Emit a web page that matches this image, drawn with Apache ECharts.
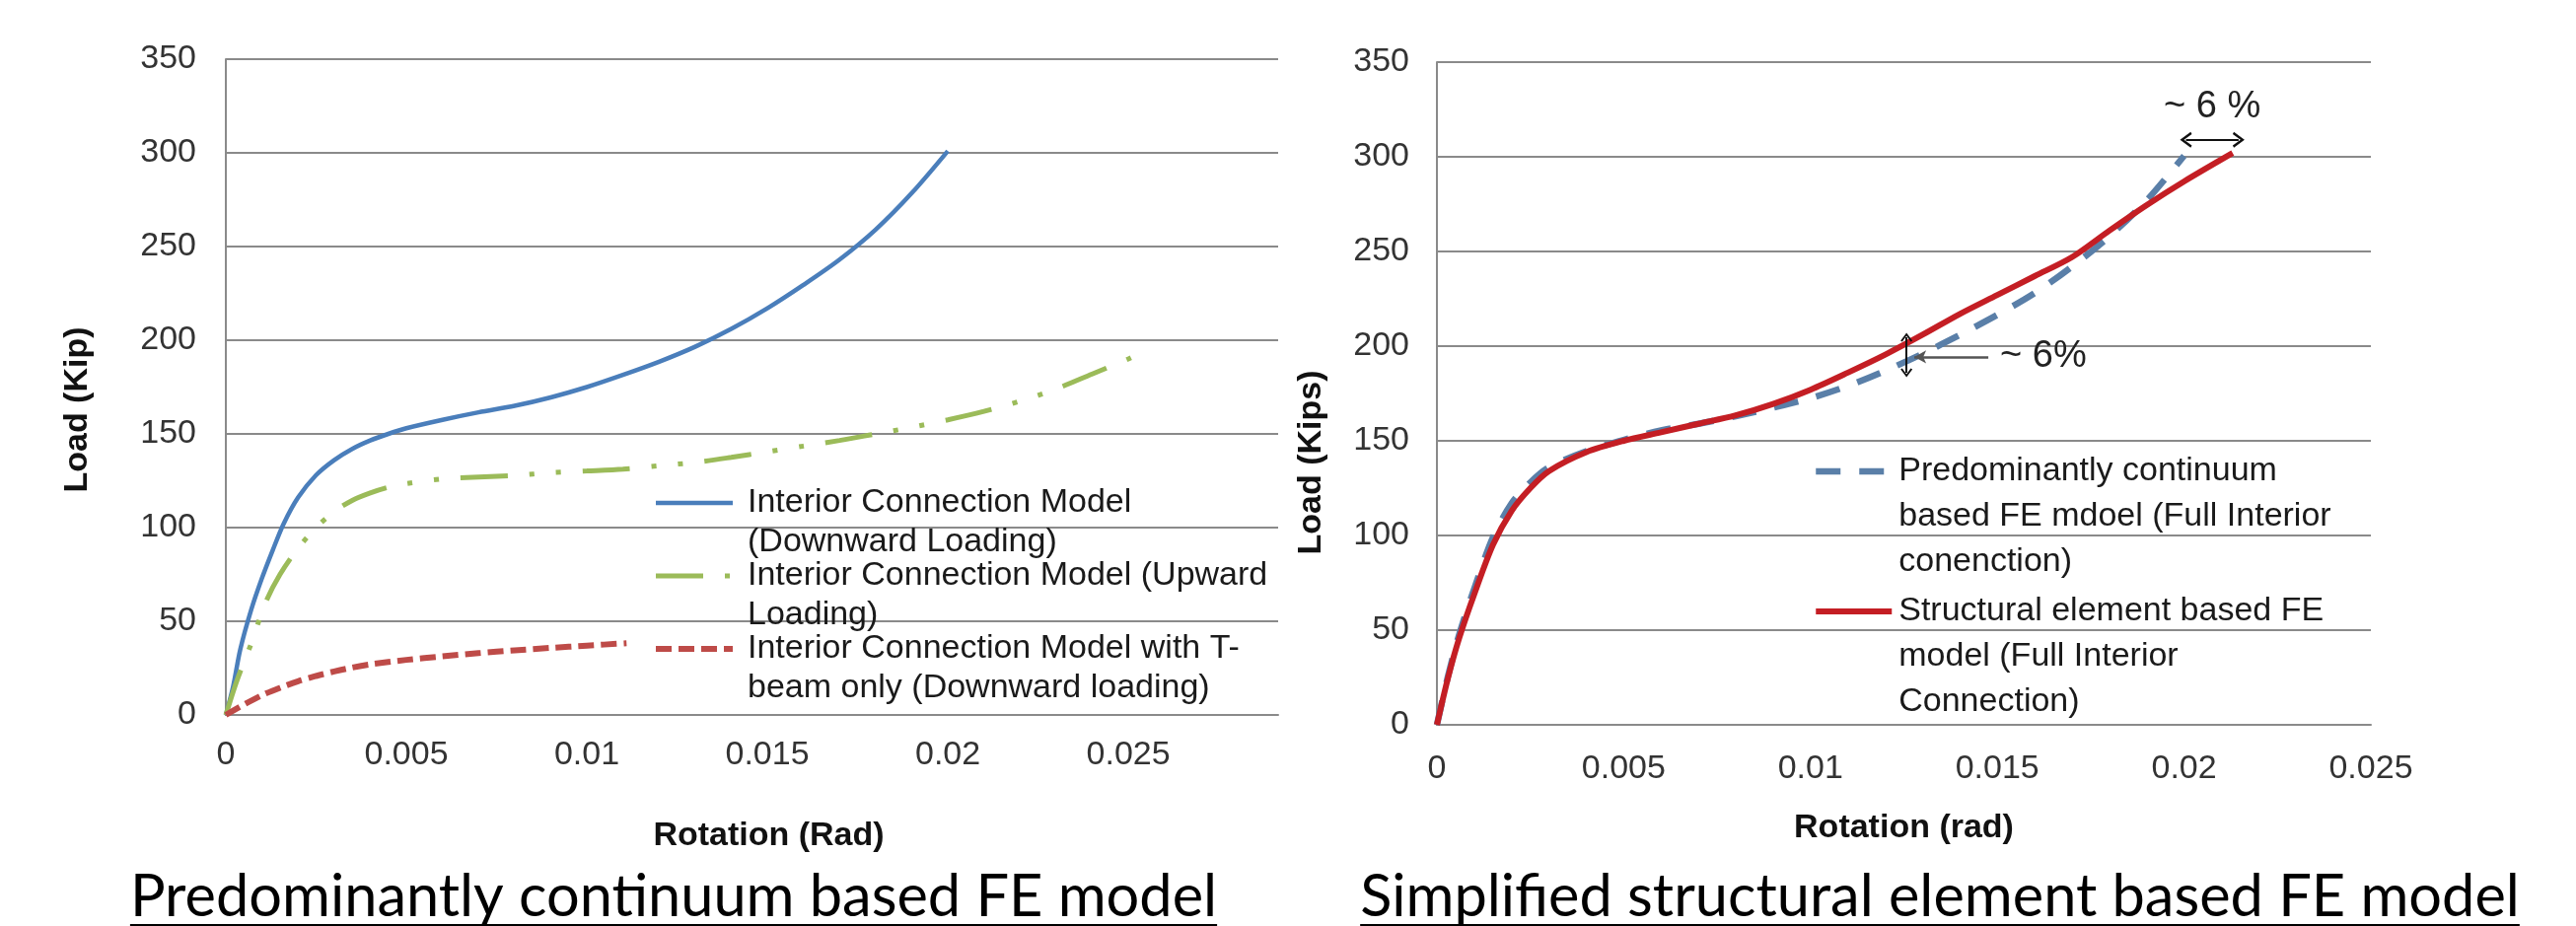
<!DOCTYPE html>
<html>
<head>
<meta charset="utf-8">
<title>Load vs rotation - FE model comparison</title>
<script src="https://cdn.jsdelivr.net/npm/echarts@6/dist/echarts.min.js"></script>
<style>
  html, body { margin: 0; padding: 0; background: #fff; }
  #chart { width: 2612px; height: 939px; }
</style>
</head>
<body>
<div id="chart"></div>
<script>
// rotation (rad) / load (kip)

// left: predominantly continuum based FE model
const downRot  = [0, 0.0002, 0.0004, 0.0007, 0.001, 0.0013, 0.0016, 0.002, 0.0025, 0.003, 0.0035, 0.004, 0.0045, 0.005, 0.006, 0.007, 0.008, 0.009, 0.01, 0.011, 0.012, 0.013, 0.014, 0.015, 0.016, 0.017, 0.018, 0.019, 0.02];
const downLoad = [0, 15, 35, 56, 73, 88, 102, 116, 128, 136, 142, 146.5, 150, 153, 157.5, 161.5, 165, 169.5, 175, 181.5, 188.5, 196.5, 206, 217, 229.5, 243, 259, 278.5, 301];

const upRot  = [0, 0.0003, 0.0007, 0.0011, 0.0015, 0.002, 0.0025, 0.003, 0.0035, 0.004, 0.0045, 0.005, 0.006, 0.007, 0.008, 0.009, 0.01, 0.011, 0.012, 0.013, 0.014, 0.015, 0.016, 0.017, 0.018, 0.019, 0.02, 0.021, 0.022, 0.023, 0.024, 0.025, 0.0253];
const upLoad = [0, 18, 38, 60, 75, 89, 100, 108.5, 114.5, 118.5, 121.5, 123.5, 126, 127, 127.8, 129.3, 130.2, 131.2, 133, 134.8, 137.5, 140.5, 143.5, 146.5, 150, 153.5, 157.5, 162, 167.5, 174, 182, 190, 193];

const tbeamRot  = [0, 0.0005, 0.001, 0.0015, 0.002, 0.0025, 0.003, 0.0035, 0.004, 0.005, 0.006, 0.007, 0.008, 0.009, 0.01, 0.0111];
const tbeamLoad = [0, 5.5, 10.5, 14.5, 18, 20.8, 23.2, 25.3, 27, 29.4, 31.3, 33, 34.5, 35.8, 37, 38.3];

// right: simplified structural element based FE model
const contRot  = [0, 0.0003, 0.0006, 0.001, 0.0015, 0.002, 0.0025, 0.003, 0.004, 0.005, 0.006, 0.007, 0.008, 0.009, 0.01, 0.011, 0.012, 0.013, 0.014, 0.015, 0.016, 0.017, 0.018, 0.019, 0.02];
const contLoad = [0, 26, 48, 72, 99, 117, 128, 136, 144.5, 150.5, 155.5, 159, 163, 167.5, 172.5, 179, 187, 196, 206, 216.5, 228, 242, 258, 277, 300.5];

const structRot  = [0, 0.0003, 0.0006, 0.001, 0.0015, 0.002, 0.0025, 0.003, 0.004, 0.005, 0.006, 0.007, 0.008, 0.009, 0.01, 0.011, 0.012, 0.013, 0.014, 0.015, 0.016, 0.017, 0.018, 0.019, 0.02, 0.0213];
const structLoad = [0, 25, 46, 69, 95, 113, 125, 134, 144, 150, 154.5, 159, 163.5, 169.5, 177, 186, 195.5, 206, 217, 227, 237, 247, 261, 274.5, 287, 302];

// "~6%" annotations (rad, kip)
const topArrow  = [[0.02005, 309], [0.02146, 309]];
const sideArrow = [[0.01257, 204.7], [0.01257, 185.9]];
const pointer   = [[0.01476, 194.3], [0.01278, 194.3]];

const leftNames = [
    'Interior Connection Model (Downward Loading)',
    'Interior Connection Model (Upward Loading)',
    'Interior Connection Model with T-beam only (Downward loading)'
];
const leftLegendText = [
    ['Interior Connection Model', '(Downward Loading)'],
    ['Interior Connection Model (Upward', 'Loading)'],
    ['Interior Connection Model with T-', 'beam only (Downward loading)']
];
const rightNames = [
    'Predominantly continuum based FE mdoel (Full Interior conenction)',
    'Structural element based FE model (Full Interior Connection)'
];
const rightLegendText = [
    ['Predominantly continuum', 'based FE mdoel (Full Interior', 'conenction)'],
    ['Structural element based FE', 'model (Full Interior', 'Connection)']
];
const titles = ['Predominantly continuum based FE model', 'Simplified structural element based FE model'];

const FONT = '"Liberation Sans", Arial, sans-serif';
const GRAY = '#8a8a8a';
const pairs = (xs, ys) => xs.map((x, i) => [x, ys[i]]);

// legend icon sits on the first text line: pad the front with blank lines
const hangLines = lines => new Array(lines.length - 1).fill('').concat(lines).join('\n');

// open arrow head, tip pointing up (markLine rotates it)
const chevron = 'path://M5,0 L10,9 L8.6,10 L5,3.4 L1.4,10 L0,9 Z';

function valueX(grid, max, name, gap, labelMargin, namePad) {
    return {
        gridIndex: grid, type: 'value', min: 0, max: max, interval: 0.005,
        axisLine: { show: true, lineStyle: { color: GRAY, width: 2 } },
        axisTick: { show: false },
        splitLine: { show: false },
        axisLabel: { fontFamily: FONT, fontSize: 34, color: '#333', margin: labelMargin, showMaxLabel: max === 0.025 },
        name: name, nameLocation: 'middle', nameGap: gap,
        nameTextStyle: { fontFamily: FONT, fontSize: 34, fontWeight: 'bold', color: '#111', padding: namePad }
    };
}

function loadY(grid, name, gap, labelMargin, namePad) {
    return {
        gridIndex: grid, type: 'value', min: 0, max: 350, interval: 50,
        axisLine: { show: true, lineStyle: { color: GRAY, width: 2 } },
        axisTick: { show: false },
        splitLine: { show: true, lineStyle: { color: GRAY, width: 2 } },
        axisLabel: { fontFamily: FONT, fontSize: 34, color: '#333', margin: labelMargin },
        name: name, nameLocation: 'middle', nameGap: gap,
        nameTextStyle: { fontFamily: FONT, fontSize: 34, fontWeight: 'bold', color: '#111', padding: namePad }
    };
}

const chart = echarts.init(document.getElementById('chart'));

// underline widths for the two captions
const measure = document.createElement('canvas').getContext('2d');
const titleFont = '59.5px Lato';
measure.font = titleFont;
const titleCx = [683, 1967];
const captionGraphics = [];
titles.forEach((t, i) => {
    const w = measure.measureText(t).width;
    captionGraphics.push({
        type: 'text', x: titleCx[i], y: 910, silent: true,
        style: { text: t, font: titleFont, fill: '#000', align: 'center', verticalAlign: 'middle' }
    });
    captionGraphics.push({
        type: 'rect', silent: true,
        shape: { x: titleCx[i] - w / 2, y: 937, width: w, height: 3 },
        style: { fill: '#000' }
    });
});

const option = {
    animation: false,
    backgroundColor: '#fff',
    grid: [
        { left: 229, top: 60, width: 1067, height: 665 },
        { left: 1457, top: 63, width: 947, height: 672 }
    ],
    xAxis: [
        valueX(0, 0.02915, 'Rotation (Rad)', 106, 24, [0, 0, 0, 34]),
        valueX(1, 0.025, 'Rotation (rad)', 88, 28, 0)
    ],
    yAxis: [
        loadY(0, 'Load (Kip)', 133, 30, [0, 46, 0, 0]),
        loadY(1, 'Load (Kips)', 110, 28, [0, 140, 0, 0])
    ],
    legend: [
        {
            orient: 'vertical', left: 662, top: 450, padding: 0,
            itemWidth: 78, itemHeight: 6, itemGap: -46,
            lineStyle: { width: 'inherit' },
            itemStyle: { opacity: 0 },
            data: leftNames,
            formatter: n => hangLines(leftLegendText[leftNames.indexOf(n)]),
            textStyle: { fontFamily: FONT, fontSize: 34, color: '#1a1a1a', lineHeight: 40, padding: [0, 0, 0, 10] }
        },
        {
            orient: 'vertical', left: 1838, top: 363, padding: 0,
            itemWidth: 77, itemHeight: 7, itemGap: -88,
            lineStyle: { width: 'inherit' },
            itemStyle: { opacity: 0 },
            data: rightNames,
            formatter: n => hangLines(rightLegendText[rightNames.indexOf(n)]),
            textStyle: { fontFamily: FONT, fontSize: 34, color: '#1a1a1a', lineHeight: 46, padding: [0, 0, 0, 2] }
        }
    ],
    series: [
        {
            name: leftNames[0], type: 'line', xAxisIndex: 0, yAxisIndex: 0,
            symbol: 'none', smooth: 0.3, color: '#4a7ebb',
            lineStyle: { width: 4.5, color: '#4a7ebb' },
            data: pairs(downRot, downLoad)
        },
        {
            name: leftNames[1], type: 'line', xAxisIndex: 0, yAxisIndex: 0,
            symbol: 'none', smooth: 0.3, color: '#9bbb59',
            lineStyle: { width: 5, color: '#9bbb59', type: [48, 22, 5, 22, 5, 22] },
            data: pairs(upRot, upLoad)
        },
        {
            name: leftNames[2], type: 'line', xAxisIndex: 0, yAxisIndex: 0,
            symbol: 'none', smooth: 0.3, color: '#be4b48',
            lineStyle: { width: 6, color: '#be4b48', type: [16, 7] },
            data: pairs(tbeamRot, tbeamLoad)
        },
        {
            name: rightNames[0], type: 'line', xAxisIndex: 1, yAxisIndex: 1,
            symbol: 'none', smooth: 0.3, color: '#5a7fa8',
            lineStyle: { width: 6.5, color: '#5a7fa8', type: [25, 19] },
            data: pairs(contRot, contLoad)
        },
        {
            name: rightNames[1], type: 'line', xAxisIndex: 1, yAxisIndex: 1,
            symbol: 'none', smooth: 0.3, color: '#c41e24',
            lineStyle: { width: 6, color: '#c41e24' },
            data: pairs(structRot, structLoad),
            markLine: {
                silent: true, animation: false,
                lineStyle: { color: '#111', width: 2, type: 'solid' },
                label: { show: false },
                data: [
                    [
                        { coord: topArrow[0], symbol: chevron, symbolSize: [16, 12] },
                        {
                            coord: topArrow[1], symbol: chevron, symbolSize: [16, 12],
                            label: { show: true, position: 'insideMiddleTop', distance: 14, formatter: '~ 6 %',
                                     fontFamily: FONT, fontSize: 38, color: '#222' }
                        }
                    ],
                    [
                        { coord: sideArrow[0], symbol: chevron, symbolSize: [12, 9] },
                        { coord: sideArrow[1], symbol: chevron, symbolSize: [12, 9] }
                    ],
                    [
                        { coord: pointer[0], symbol: 'none' },
                        {
                            coord: pointer[1], symbol: 'arrow', symbolSize: [10, 12],
                            lineStyle: { color: '#555', width: 2.5 },
                            label: { show: true, position: 'start', distance: 12, formatter: '~ 6%',
                                     fontFamily: FONT, fontSize: 38, color: '#222' }
                        }
                    ]
                ]
            }
        }
    ],
    graphic: captionGraphics
};

chart.setOption(option);
</script>
</body>
</html>
